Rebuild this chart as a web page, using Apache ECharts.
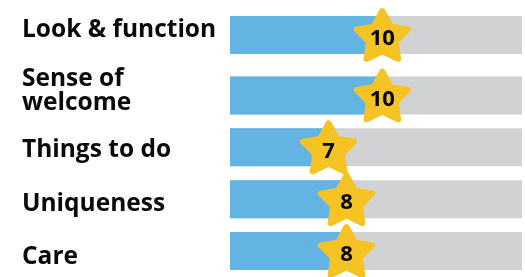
<!DOCTYPE html>
<html>
<head>
<meta charset="utf-8">
<script src="https://cdn.jsdelivr.net/npm/echarts@6/dist/echarts.min.js"></script>
<style>
    html, body { margin: 0; padding: 0; background: #fff; }
    #chart { width: 525px; height: 277px; }
</style>
</head>
<body>
<div id="chart"></div>
<script>
// 数据
var categories = ['Look & function', 'Sense of\nwelcome', 'Things to do', 'Uniqueness', 'Care'];
var scores = [10, 10, 7, 8, 8];

var BLUE = '#63B3E3';
var GRAY = '#D1D2D4';
var YELLOW = '#F5C324';
var FONT = 'Open Sans';

// 五角星路径
function starPath() {
    var pts = [];
    for (var i = 0; i < 10; i++) {
        var r = i % 2 ? 0.52 : 1;
        var a = -Math.PI / 2 + i * Math.PI / 5;
        pts.push((50 + 50 * r * Math.cos(a)).toFixed(2) + ',' + (50 + 50 * r * Math.sin(a)).toFixed(2));
    }
    return 'path://M' + pts.join('L') + 'Z';
}
var STAR = starPath();

var textStyle = { fontSize: 24.5, fontWeight: 'bold', fontFamily: FONT, color: '#0a0a0a', lineHeight: 24 };

function makeSeries(gi, vals) {
    return [
        {
            type: 'bar',
            xAxisIndex: gi,
            yAxisIndex: gi,
            data: vals,
            barWidth: 38,
            itemStyle: { color: BLUE },
            showBackground: true,
            backgroundStyle: { color: GRAY },
            silent: true
        },
        {
            type: 'scatter',
            xAxisIndex: gi,
            yAxisIndex: gi,
            data: vals.map(function (v, i) { return [v, i]; }),
            symbol: STAR,
            symbolSize: [51, 48],
            itemStyle: { color: YELLOW, borderColor: YELLOW, borderWidth: 6, borderJoin: 'round', opacity: 1 },
            label: {
                show: true,
                position: 'inside',
                offset: [0, 4],
                formatter: function (p) { return p.value[0]; },
                fontSize: 22,
                fontWeight: 'bold',
                fontFamily: FONT,
                color: '#000'
            },
            clip: false,
            silent: true,
            z: 5
        }
    ];
}

function xAxisDef(gi) {
    return { gridIndex: gi, type: 'value', min: 1.5, max: 17.8, show: false };
}

// shifts: 每个标签的上下微调
function yAxisDef(gi, cats, shifts, rich) {
    return {
        gridIndex: gi, type: 'category', data: cats, inverse: true,
        axisLine: { show: false }, axisTick: { show: false },
        axisLabel: Object.assign({}, textStyle, {
            align: 'left',
            margin: 208,
            formatter: function (v, idx) {
                var tag = shifts[idx];
                if (!tag) return v;
                return v.split('\n').map(function (s) { return '{' + tag + '|' + s + '}'; }).join('\n');
            },
            rich: rich
        })
    };
}

var chart = echarts.init(document.getElementById('chart'));

var rich = {
    up: Object.assign({}, textStyle, { padding: [0, 0, 10, 0] }),
    up2: Object.assign({}, textStyle, { padding: [0, 0, 8, 0] }),
    d1: Object.assign({}, textStyle, { padding: [6, 0, 0, 0] }),
    d2: Object.assign({}, textStyle, { padding: [10, 0, 0, 0] }),
    d3: Object.assign({}, textStyle, { padding: [12, 0, 0, 0] })
};

var option = {
    animation: false,
    grid: [
        { left: 230, right: 3, top: 0, height: 70 },
        { left: 230, right: 3, top: 69.5, height: 210.7 }
    ],
    xAxis: [xAxisDef(0), xAxisDef(1)],
    yAxis: [
        yAxisDef(0, categories.slice(0, 1), ['up'], rich),
        yAxisDef(1, categories.slice(1), ['up2', 'd1', 'd2', 'd3'], rich)
    ],
    series: makeSeries(0, scores.slice(0, 1)).concat(makeSeries(1, scores.slice(1)))
};

chart.setOption(option);
</script>
</body>
</html>
